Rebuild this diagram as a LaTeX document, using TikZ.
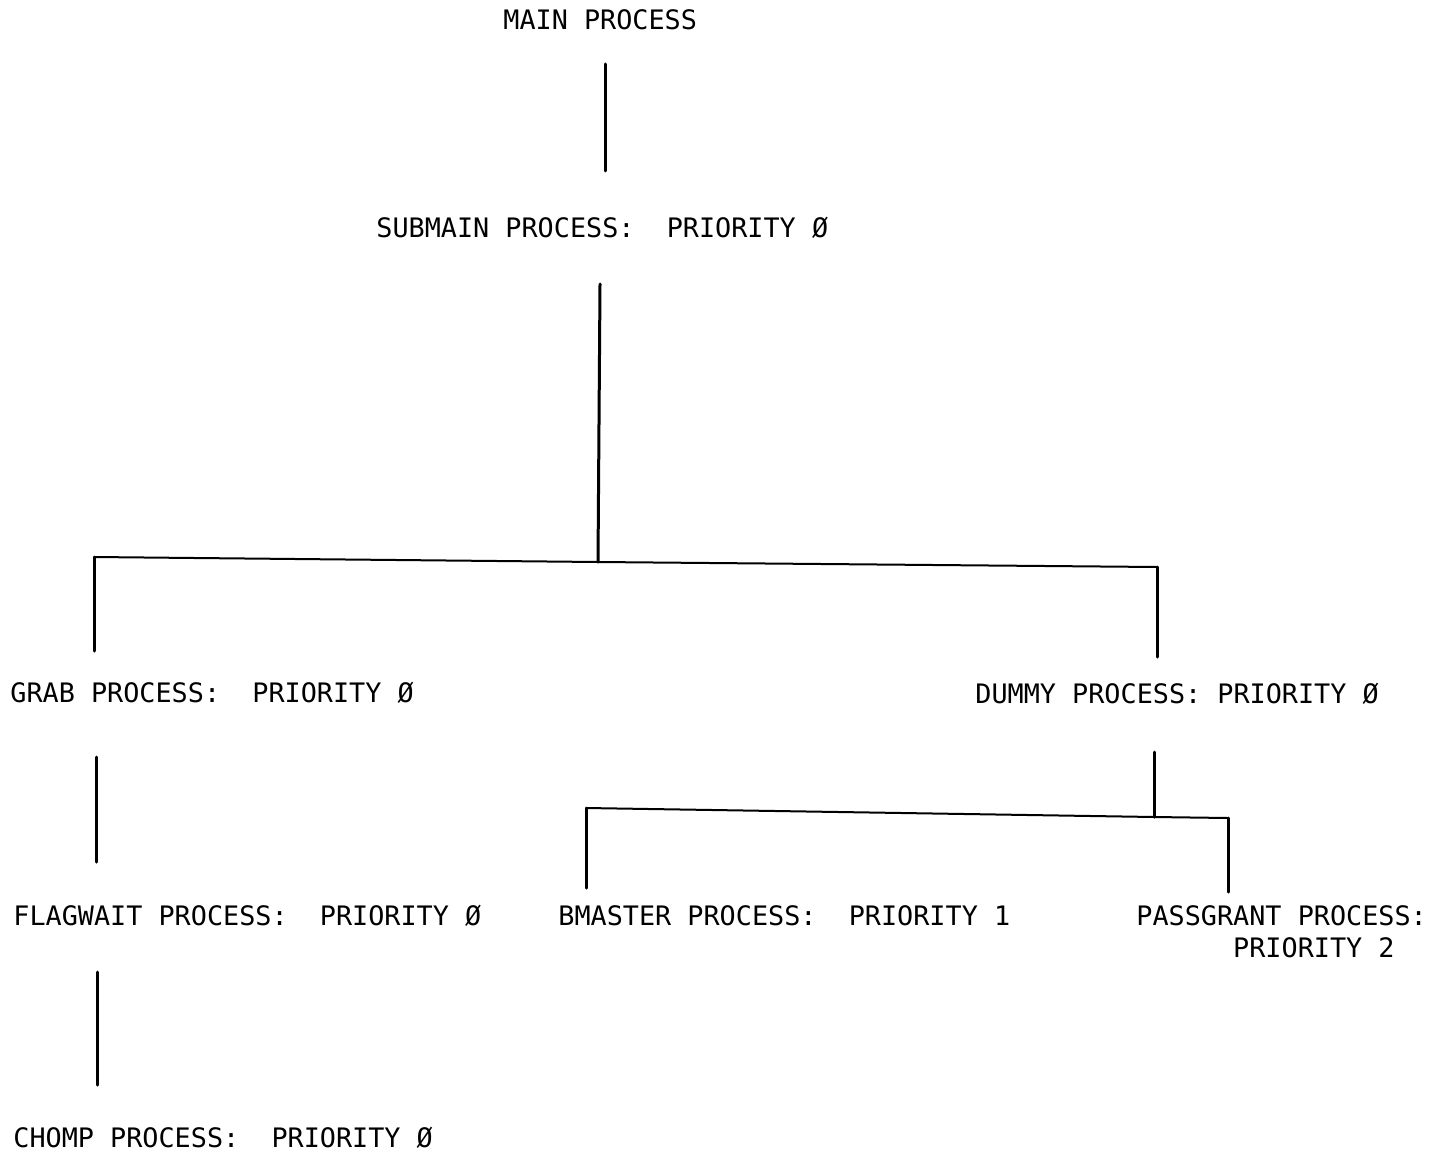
\documentclass[tikz,border=0pt]{standalone}
\usepackage{fontspec}
\newfontfamily\procfont{DejaVu Sans Mono}
\begin{document}
\begin{tikzpicture}[x=0.5pt,y=-0.5pt,
  proc/.style={anchor=base west,inner sep=0pt,font=\procfont\fontsize{13.4}{16}\selectfont,align=left},
  stem/.style={line width=1.5pt,line cap=round},
  bar/.style={line width=1pt,line cap=round}]
\useasboundingbox[fill=white] (0,0) rectangle (1438,1155);

% process labels (monospaced, two blanks after the colon)
\node[proc] (main)     at (503,30)   {MAIN PROCESS};
\node[proc] (submain)  at (376,237)  {SUBMAIN PROCESS:\ \ PRIORITY Ø};
\node[proc] (grab)     at (10,702)   {GRAB PROCESS:\ \ PRIORITY Ø};
\node[proc] (dummy)    at (975,703)  {DUMMY PROCESS: PRIORITY Ø};
\node[proc] (flagwait) at (13,925)   {FLAGWAIT PROCESS:\ \ PRIORITY Ø};
\node[proc] (bmaster)  at (558,925)  {BMASTER PROCESS:\ \ PRIORITY 1};
\node[proc] (passgrant) at (1136,957) {PASSGRANT PROCESS:\\\phantom{XXXXXX}PRIORITY 2};
\node[proc] (chomp)    at (13,1147)  {CHOMP PROCESS:\ \ PRIORITY Ø};

% connector end points
\coordinate (mainB)   at (605,64);
\coordinate (subT)    at (605,171);
\coordinate (subB)    at (600,284);
\coordinate (join1)   at (598,562);
\coordinate (left1)   at (94,557);
\coordinate (right1)  at (1157,567);
\coordinate (grabT)   at (94,651);
\coordinate (dummyT)  at (1157,657);
\coordinate (grabB)   at (96,757);
\coordinate (flagT)   at (96,862);
\coordinate (dummyB)  at (1154,752);
\coordinate (join2)   at (1154,817);
\coordinate (left2)   at (586,808);
\coordinate (right2)  at (1228,818);
\coordinate (bmT)     at (586,888);
\coordinate (pgT)     at (1228,892);
\coordinate (flagB)   at (97,972);
\coordinate (chompT)  at (97,1085);

% tree lines
\draw[stem] (mainB) -- (subT);
\draw[stem] (subB) -- (join1);
\draw[bar]  (left1) -- (join1) -- (right1);
\draw[stem] (left1) -- (grabT);
\draw[stem] (right1) -- (dummyT);
\draw[stem] (grabB) -- (flagT);
\draw[stem] (dummyB) -- (join2);
\draw[bar]  (left2) -- (join2) -- (right2);
\draw[stem] (left2) -- (bmT);
\draw[stem] (right2) -- (pgT);
\draw[stem] (flagB) -- (chompT);
\end{tikzpicture}
\end{document}
